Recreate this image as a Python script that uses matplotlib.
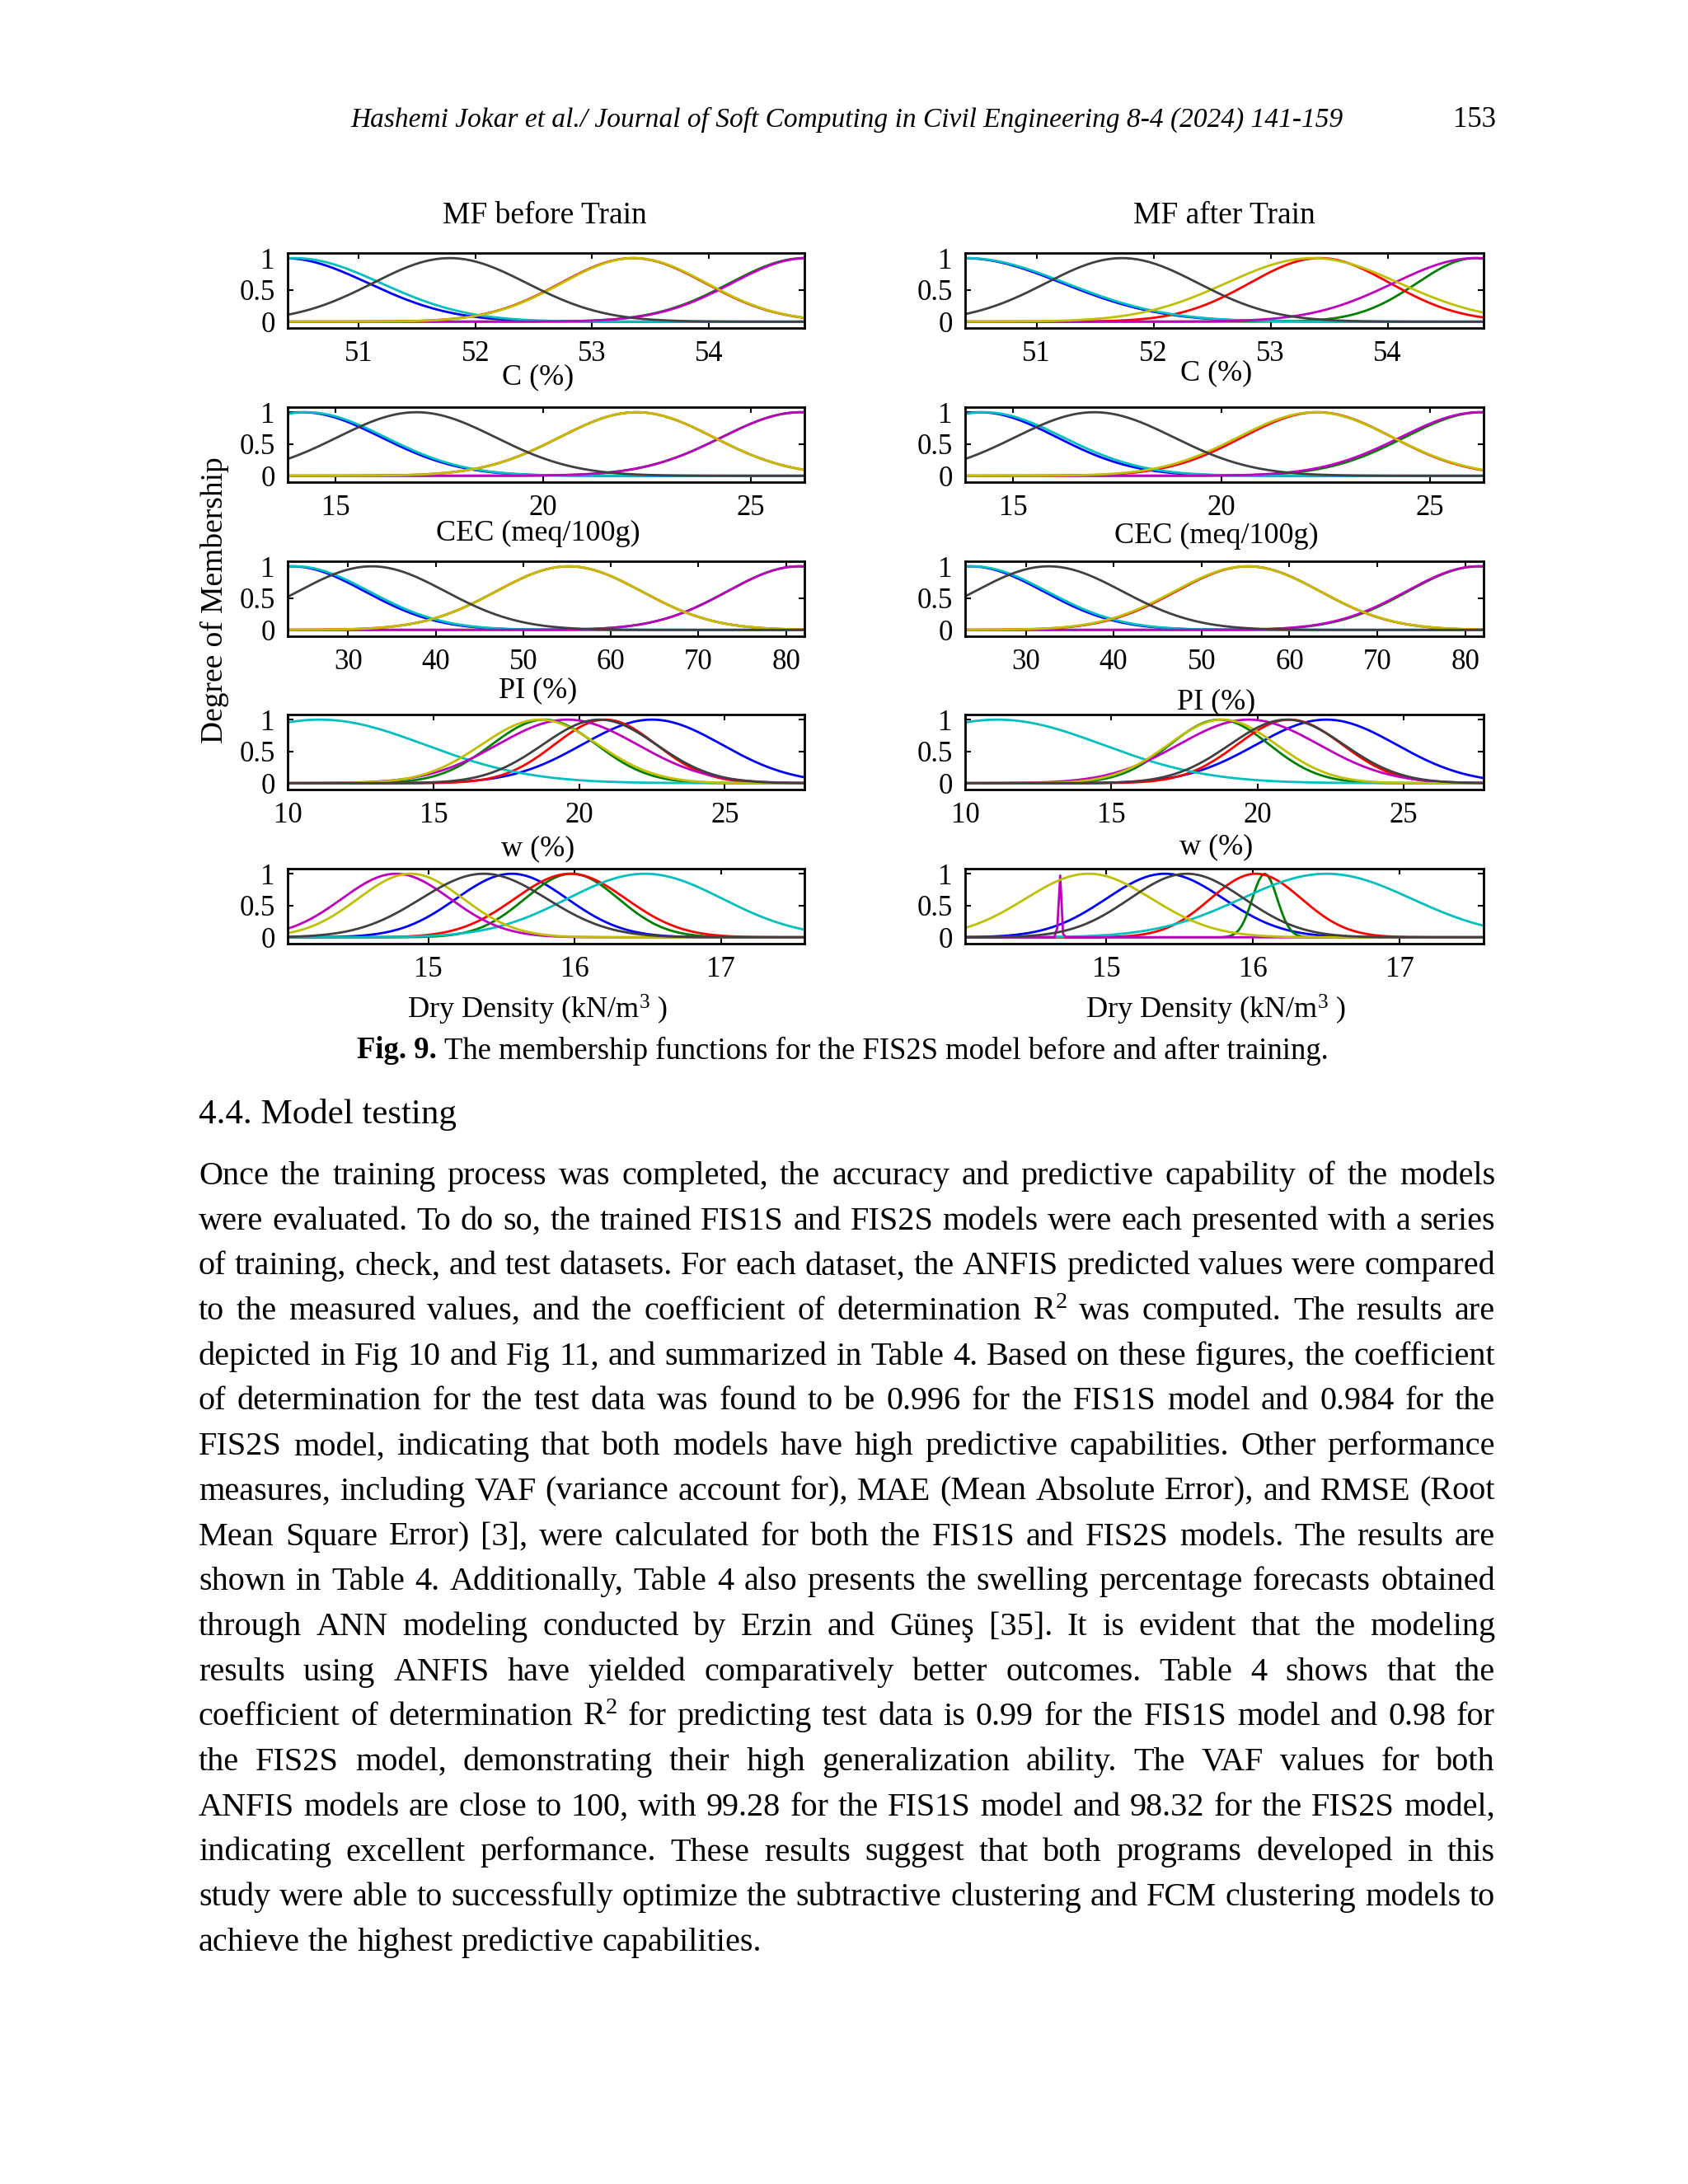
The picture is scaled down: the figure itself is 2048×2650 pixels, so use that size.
import numpy as np
import matplotlib
matplotlib.use("Agg")
import matplotlib.pyplot as plt

plt.rcParams['font.family'] = ['Liberation Serif', 'DejaVu Serif']
plt.rcParams['mathtext.fontset'] = 'custom'
plt.rcParams['mathtext.rm'] = 'Liberation Serif'
plt.rcParams['mathtext.it'] = 'Liberation Serif:italic'
plt.rcParams['mathtext.bf'] = 'Liberation Serif:bold'

W, H = 2048, 2650

# MF colours, in the order MATLAB plots them (MF1 ... MF7)
mf_colors = [(0, 0, 1), (0, 0.5, 0), (1, 0, 0), (0, 0.75, 0.75),
             (0.75, 0, 0.75), (0.75, 0.75, 0), (0.25, 0.25, 0.25)]

input_labels = ['C (%)', 'CEC (meq/100g)', 'PI (%)', 'w (%)',
                'Dry Density (kN/m$^{3}$ )']
input_ranges = [(50.39, 54.82), (13.85, 26.29), (23.1, 82.1), (10.0, 27.73), (14.04, 17.57)]
input_ticks = [[51, 52, 53, 54], [15, 20, 25], [30, 40, 50, 60, 70, 80],
               [10, 15, 20, 25], [15, 16, 17]]

# gaussian MF centers / sigmas (b, g, r, c, m, y, k)
C_center_before = [50.36, 54.82, 53.35, 50.45, 54.84, 53.36, 51.78]
C_sigma_before = [0.72, 0.64, 0.62, 0.74, 0.64, 0.62, 0.66]
C_center_after = [50.38, 54.75, 53.42, 50.40, 54.75, 53.36, 51.73]
C_sigma_after = [0.84, 0.50, 0.60, 0.85, 0.70, 0.74, 0.65]

CEC_center_before = [14.20, 26.20, 22.25, 14.30, 26.20, 22.25, 16.95]
CEC_sigma_before = [1.90, 1.90, 1.85, 1.90, 1.90, 1.85, 1.90]
CEC_center_after = [14.20, 26.25, 22.30, 14.30, 26.20, 22.25, 16.95]
CEC_sigma_after = [1.85, 1.85, 1.80, 1.90, 1.90, 1.85, 1.90]

PI_center_before = [23.6, 81.5, 55.2, 24.0, 81.5, 55.2, 32.7]
PI_sigma_before = [8.3, 8.2, 8.3, 8.4, 8.2, 8.3, 8.4]
PI_center_after = [23.7, 81.6, 55.3, 24.0, 81.5, 55.2, 32.6]
PI_sigma_after = [8.3, 8.1, 8.2, 8.4, 8.2, 8.3, 8.4]

w_center_before = [22.50, 18.80, 20.90, 11.10, 19.60, 18.65, 20.70]
w_sigma_before = [2.40, 1.80, 1.75, 3.60, 2.40, 2.00, 1.95]
w_center_after = [22.35, 18.70, 21.10, 11.10, 19.70, 18.80, 21.00]
w_sigma_after = [2.40, 1.70, 1.80, 3.60, 2.40, 1.85, 1.95]

DD_center_before = [15.57, 15.98, 15.97, 16.48, 14.78, 14.88, 15.38]
DD_sigma_before = [0.38, 0.32, 0.38, 0.53, 0.37, 0.36, 0.43]
DD_center_after = [15.40, 16.08, 16.02, 16.50, 14.685, 14.88, 15.55]
DD_sigma_after = [0.40, 0.085, 0.31, 0.58, 0.009, 0.43, 0.39]

centers_before = [C_center_before, CEC_center_before, PI_center_before, w_center_before, DD_center_before]
sigmas_before = [C_sigma_before, CEC_sigma_before, PI_sigma_before, w_sigma_before, DD_sigma_before]
centers_after = [C_center_after, CEC_center_after, PI_center_after, w_center_after, DD_center_after]
sigmas_after = [C_sigma_after, CEC_sigma_after, PI_sigma_after, w_sigma_after, DD_sigma_after]

# label offsets below the frame (px)
label_off_before = [60, 62, 66, 72, 80]
label_off_after = [55, 65, 80, 70, 80]

header = "Hashemi Jokar et al./ Journal of Soft Computing in Civil Engineering 8-4 (2024) 141-159"
page_no = "153"
caption_bold = "Fig. 9."
caption_rest = "The membership functions for the FIS2S model before and after training."
section = "4.4. Model testing"
body_lines = [
    "Once the training process was completed, the accuracy and predictive capability of the models",
    "were evaluated. To do so, the trained FIS1S and FIS2S models were each presented with a series",
    "of training, check, and test datasets. For each dataset, the ANFIS predicted values were compared",
    "to the measured values, and the coefficient of determination R$^{2}$ was computed. The results are",
    "depicted in Fig 10 and Fig 11, and summarized in Table 4. Based on these figures, the coefficient",
    "of determination for the test data was found to be 0.996 for the FIS1S model and 0.984 for the",
    "FIS2S model, indicating that both models have high predictive capabilities. Other performance",
    "measures, including VAF (variance account for), MAE (Mean Absolute Error), and RMSE (Root",
    "Mean Square Error) [3], were calculated for both the FIS1S and FIS2S models. The results are",
    "shown in Table 4. Additionally, Table 4 also presents the swelling percentage forecasts obtained",
    "through ANN modeling conducted by Erzin and Güneş [35]. It is evident that the modeling",
    "results using ANFIS have yielded comparatively better outcomes. Table 4 shows that the",
    "coefficient of determination R$^{2}$ for predicting test data is 0.99 for the FIS1S model and 0.98 for",
    "the FIS2S model, demonstrating their high generalization ability. The VAF values for both",
    "ANFIS models are close to 100, with 99.28 for the FIS1S model and 98.32 for the FIS2S model,",
    "indicating excellent performance. These results suggest that both programs developed in this",
    "study were able to successfully optimize the subtractive clustering and FCM clustering models to",
    "achieve the highest predictive capabilities.",
]

fig = plt.figure(figsize=(W / 100, H / 100), dpi=100)
fig.patch.set_facecolor('white')
renderer = fig.canvas.get_renderer()


def put(x, y, s, **kw):
    return fig.text(x / W, 1 - y / H, s, **kw)


def gaussmf(x, sig, c):
    return np.exp(-(x - c) ** 2 / (2 * sig ** 2))


col_x = [(349, 976), (1171, 1800)]
row_top = [307, 494, 681, 867, 1054]
row_h = 91

for col, (centers, sigmas, offs) in enumerate([(centers_before, sigmas_before, label_off_before),
                                               (centers_after, sigmas_after, label_off_after)]):
    x0, x1 = col_x[col]
    for i in range(5):
        y0 = row_top[i]
        ax = fig.add_axes([x0 / W, 1 - (y0 + row_h) / H, (x1 - x0) / W, row_h / H])
        lo, hi = input_ranges[i]
        xx = np.linspace(lo, hi, 181)
        for j in range(7):
            ax.plot(xx, gaussmf(xx, sigmas[i][j], centers[i][j]), color=mf_colors[j], lw=2.0)
        ax.set_xlim(lo, hi)
        ax.set_ylim(-0.1, 1.08)
        ax.set_xticks(input_ticks[i])
        ax.set_xticklabels([str(t) for t in input_ticks[i]])
        ax.set_yticks([0, 0.5, 1])
        ax.set_yticklabels(['0', '0.5', '1'])
        ax.tick_params(direction='in', length=5, width=1.5, top=True, right=True,
                       labelsize=25, pad=11)
        ax.tick_params(axis='y', pad=11)
        for sp in ax.spines.values():
            sp.set_linewidth(2.0)
        ax.annotate(input_labels[i], xy=(0.5, 0), xycoords='axes fraction',
                    xytext=(-10, -offs[i]), textcoords='offset pixels',
                    ha='center', va='center', fontsize=26)

put(661, 262, "MF before Train", ha='center', va='center', fontsize=27)
put(1485, 262, "MF after Train", ha='center', va='center', fontsize=27)
put(260, 728, "Degree of Membership", ha='center', va='center', rotation=90, fontsize=27)

# header
put(1027, 145, header, ha='center', va='center', fontsize=24, style='italic')
put(1789, 145, page_no, ha='center', va='center', fontsize=25)

# caption
tb = put(433, 1275, caption_bold, ha='left', va='center', fontsize=26.4, weight='bold')
bw = tb.get_window_extent(renderer=renderer).width
put(433 + bw + 9, 1275, caption_rest, ha='left', va='center', fontsize=26.4)

# section title
put(241, 1353, section, ha='left', va='center', fontsize=31)


def space_width(size):
    a = fig.text(0, 0, "x x", fontsize=size)
    b = fig.text(0, 0, "xx", fontsize=size)
    w = a.get_window_extent(renderer=renderer).width - b.get_window_extent(renderer=renderer).width
    a.remove()
    b.remove()
    return w


body_size = 29
left, right = 241, 1814
first_y, line_step = 1425, 54.7
sp_nat = space_width(body_size)
for k, line in enumerate(body_lines):
    yb = first_y + k * line_step + 12
    words = line.split(' ')
    texts = [put(0, yb, wd, ha='left', va='baseline', fontsize=body_size) for wd in words]
    widths = [t.get_window_extent(renderer=renderer).width for t in texts]
    if k == len(body_lines) - 1:
        gap = sp_nat
    else:
        gap = max((right - left - sum(widths)) / (len(words) - 1), 0.5 * sp_nat)
    x = left
    for t, wdt in zip(texts, widths):
        t.set_x(x / W)
        x += wdt + gap

fig.savefig("out.png", dpi=100, facecolor='white')
